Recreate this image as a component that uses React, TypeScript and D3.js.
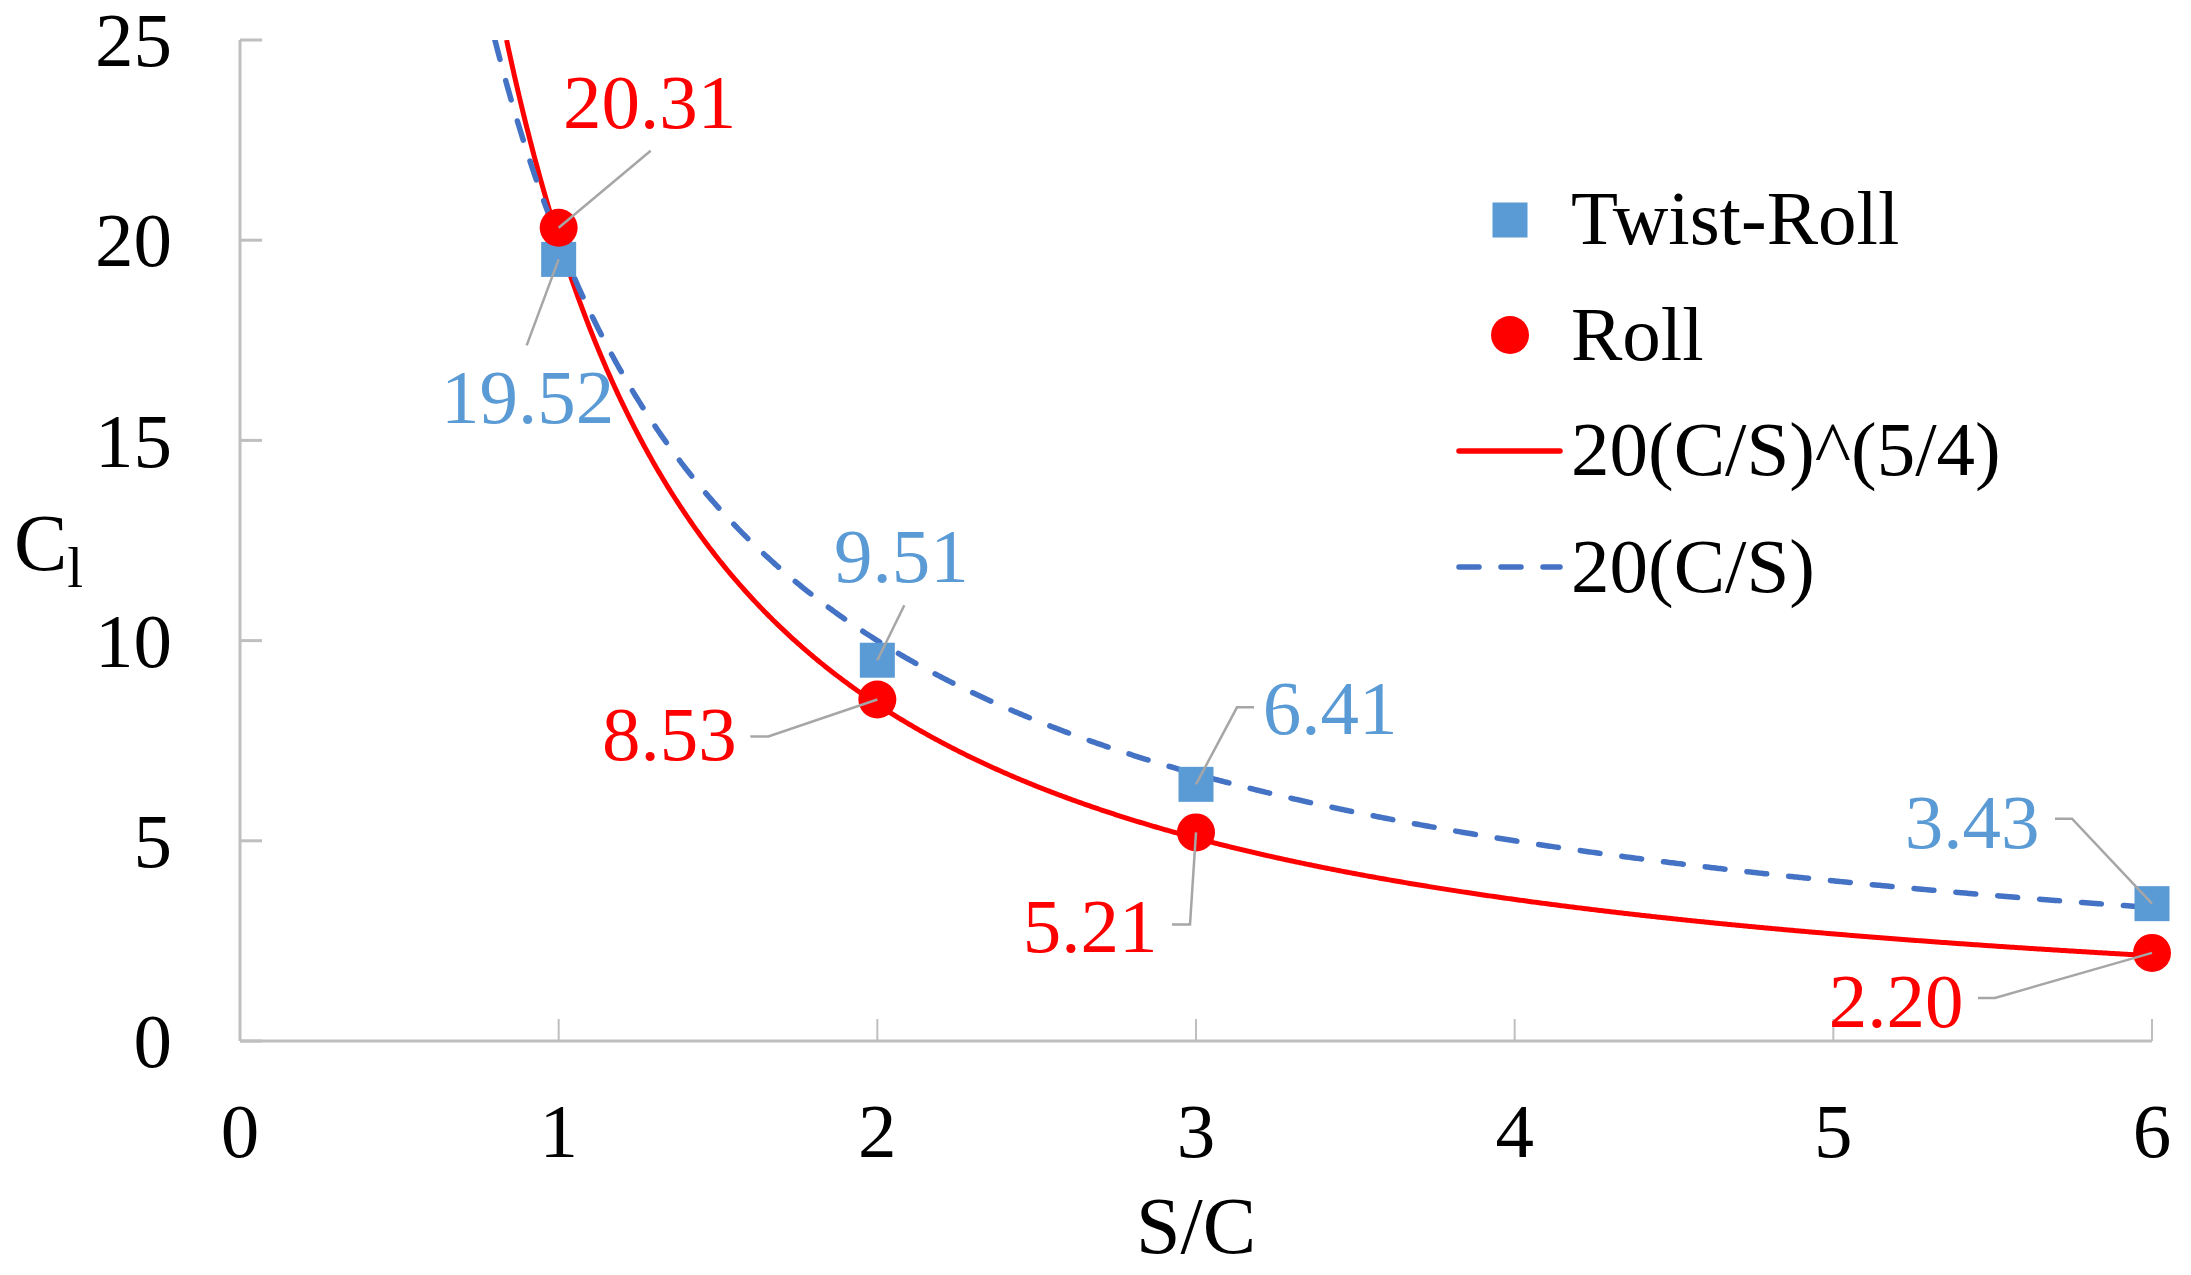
import * as d3 from "d3";

const xTicks = [0, 1, 2, 3, 4, 5, 6];
const yTicks = [0, 5, 10, 15, 20, 25];

const twistRollX = [1, 2, 3, 6];
const twistRollY = [19.52, 9.51, 6.41, 3.43];
const rollX = [1, 2, 3, 6];
const rollY = [20.31, 8.53, 5.21, 2.2];

// fitted curves named in the legend: 20(C/S)^(5/4) and 20(C/S)
const fitCoef = 20;
const fitExponents = [1.25, 1];

const legendLabels = ["Twist-Roll", "Roll", "20(C/S)^(5/4)", "20(C/S)"];

// data-label placement relative to the marker (text centre dx, baseline dy, leader points)
type LabelPos = { dx: number; dy: number; leader: [number, number][] };
const twistRollLabels: LabelPos[] = [
  { dx: -31, dy: 164, leader: [[-32, 86]] },
  { dx: 24, dy: -78, leader: [[27, -55]] },
  { dx: 134, dy: -50, leader: [[58, -77], [41, -77]] },
  { dx: -180, dy: -56, leader: [[-97, -85], [-80, -85]] },
];
const rollLabels: LabelPos[] = [
  { dx: 91, dy: -100, leader: [[92, -77]] },
  { dx: -208, dy: 61, leader: [[-127, 37], [-109, 37]] },
  { dx: -106, dy: 120, leader: [[-24, 92], [-6, 92]] },
  { dx: -256, dy: 74, leader: [[-174, 45], [-157, 45]] },
];

const W = 2191;
const H = 1275;
const FONT = "'Liberation Serif', 'Times New Roman', 'DejaVu Serif', serif";
const BLUE_MARK = "#5B9BD5";
const BLUE_LINE = "#4472C4";
const RED = "#FF0000";
const AXIS = "#BFBFBF";
const LEADER = "#A6A6A6";

export default function App() {
  const x = d3.scaleLinear().domain([0, 6]).range([240, 2152]);
  const y = d3.scaleLinear().domain([0, 25]).range([1041, 40]);

  const line = d3
    .line<[number, number]>()
    .x((d) => x(d[0]))
    .y((d) => y(d[1]));

  const curves = fitExponents.map((p) => {
    const start = Math.pow(fitCoef / 25, 1 / p);
    const xs = d3.range(start, 6, 0.005).concat([6]);
    return line(xs.map((v) => [v, fitCoef * Math.pow(1 / v, p)] as [number, number])) ?? "";
  });

  const leaderPath = (px: number, py: number, pts: [number, number][]) =>
    "M" + pts.map(([dx, dy]) => `${px + dx},${py + dy}`).join("L") + `L${px},${py}`;

  const sq = 35;
  const r = 19;
  const txt = { fontFamily: FONT };

  return (
    <svg
      width={W}
      height={H}
      viewBox={`0 0 ${W} ${H}`}
      style={{ position: "absolute", left: 0, top: 0, background: "#fff", fontFamily: FONT }}
    >
      <defs>
        <clipPath id="plot">
          <rect x={x(0)} y={y(25)} width={x(6) - x(0) + 20} height={y(0) - y(25)} />
        </clipPath>
      </defs>

      {/* axes */}
      <line x1={x(0)} x2={x(0)} y1={y(0)} y2={y(25)} stroke={AXIS} strokeWidth={3} />
      <line x1={x(0)} x2={x(6)} y1={y(0)} y2={y(0)} stroke={AXIS} strokeWidth={3} />
      {yTicks.map((t) => (
        <g key={"y" + t}>
          <line x1={x(0)} x2={x(0) + 22} y1={y(t)} y2={y(t)} stroke={AXIS} strokeWidth={3} />
          <text x={172} y={y(t)} dy="0.34em" textAnchor="end" fontSize={77} style={txt}>
            {t}
          </text>
        </g>
      ))}
      {xTicks.map((t) => (
        <g key={"x" + t}>
          <line x1={x(t)} x2={x(t)} y1={y(0)} y2={y(0) - 22} stroke={AXIS} strokeWidth={2} />
          <text x={x(t)} y={1157} textAnchor="middle" fontSize={77} style={txt}>
            {t}
          </text>
        </g>
      ))}
      <text x={x(3)} y={1253} textAnchor="middle" fontSize={80} style={txt}>
        S/C
      </text>
      <text x={14} y={570} fontSize={80} style={txt}>
        C<tspan fontSize={57} dy={17}>l</tspan>
      </text>

      {/* fitted curves */}
      <g clipPath="url(#plot)" fill="none">
        <path d={curves[0]} stroke={RED} strokeWidth={5} />
        <path
          d={curves[1]}
          stroke={BLUE_LINE}
          strokeWidth={5.5}
          strokeDasharray="20 22"
          strokeLinecap="round"
        />
      </g>

      {/* markers */}
      {twistRollX.map((v, i) => (
        <rect
          key={"ts" + i}
          x={x(v) - sq / 2}
          y={y(twistRollY[i]) - sq / 2}
          width={sq}
          height={sq}
          fill={BLUE_MARK}
        />
      ))}
      {rollX.map((v, i) => (
        <circle key={"rc" + i} cx={x(v)} cy={y(rollY[i])} r={r} fill={RED} />
      ))}

      {/* leader lines, drawn over the markers */}
      <g fill="none" stroke={LEADER} strokeWidth={2.5}>
        {twistRollX.map((v, i) => (
          <path key={"tl" + i} d={leaderPath(x(v), y(twistRollY[i]), twistRollLabels[i].leader)} />
        ))}
        {rollX.map((v, i) => (
          <path key={"rl" + i} d={leaderPath(x(v), y(rollY[i]), rollLabels[i].leader)} />
        ))}
      </g>

      {/* data labels */}
      {twistRollX.map((v, i) => (
        <text
          key={"tt" + i}
          x={x(v) + twistRollLabels[i].dx}
          y={y(twistRollY[i]) + twistRollLabels[i].dy}
          textAnchor="middle"
          fontSize={77}
          fill={BLUE_MARK}
          style={txt}
        >
          {twistRollY[i].toFixed(2)}
        </text>
      ))}
      {rollX.map((v, i) => (
        <text
          key={"rt" + i}
          x={x(v) + rollLabels[i].dx}
          y={y(rollY[i]) + rollLabels[i].dy}
          textAnchor="middle"
          fontSize={77}
          fill={RED}
          style={txt}
        >
          {rollY[i].toFixed(2)}
        </text>
      ))}

      {/* legend */}
      <rect x={1510 - sq / 2} y={220 - sq / 2} width={sq} height={sq} fill={BLUE_MARK} />
      <circle cx={1510} cy={335} r={r} fill={RED} />
      <line x1={1459} x2={1560} y1={451} y2={451} stroke={RED} strokeWidth={5.5} strokeLinecap="round" />
      <line
        x1={1459}
        x2={1560}
        y1={567}
        y2={567}
        stroke={BLUE_LINE}
        strokeWidth={5.5}
        strokeDasharray="20 22"
        strokeLinecap="round"
      />
      {legendLabels.map((l, i) => (
        <text key={l} x={1571} y={[244, 360, 475, 592][i]} fontSize={77} style={txt}>
          {l}
        </text>
      ))}
    </svg>
  );
}
